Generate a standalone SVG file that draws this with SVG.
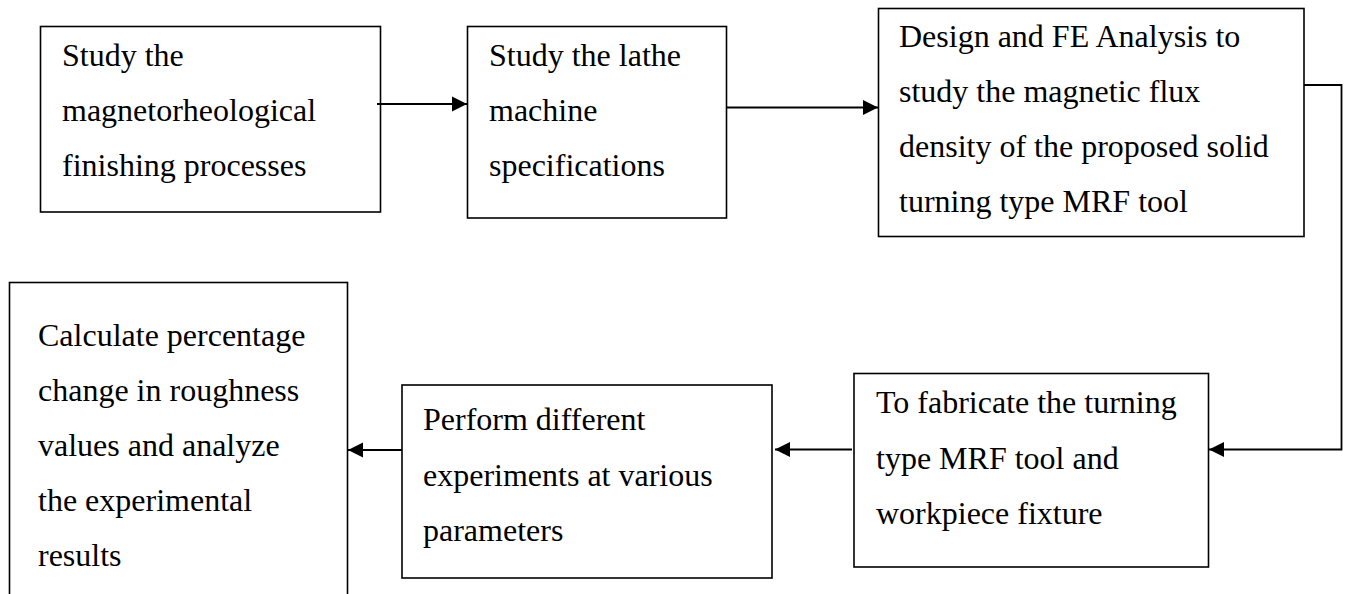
<svg xmlns="http://www.w3.org/2000/svg" width="1349" height="594" viewBox="0 0 1349 594">
<style>
.box{fill:#fff;stroke:#000;stroke-width:1.6}
.t{font-family:"Liberation Serif","Times New Roman",serif;font-size:32px;fill:#000}
.c{fill:none;stroke:#000;stroke-width:2}
</style>
<defs>
<marker id="ah" markerUnits="userSpaceOnUse" markerWidth="16" markerHeight="16" refX="15" refY="8" orient="auto">
<path d="M0,0.5 L15,8 L0,15.5 Z" fill="#000"/>
</marker>
</defs>
<rect width="1349" height="594" fill="#fff"/>
<g id="n1">
<rect class="box" x="40.5" y="26.5" width="340" height="185.5"/>
<text class="t" x="62" y="66">Study the</text>
<text class="t" x="62" y="121">magnetorheological</text>
<text class="t" x="62" y="176">finishing processes</text>
</g>
<g id="n2">
<rect class="box" x="467.5" y="26.5" width="259" height="191.5"/>
<text class="t" x="489" y="66">Study the lathe</text>
<text class="t" x="489" y="121">machine</text>
<text class="t" x="489" y="176">specifications</text>
</g>
<g id="n3">
<rect class="box" x="878.5" y="8.5" width="425.5" height="228"/>
<text class="t" x="899" y="47">Design and FE Analysis to</text>
<text class="t" x="899" y="102">study the magnetic flux</text>
<text class="t" x="899" y="157">density of the proposed solid</text>
<text class="t" x="899" y="212">turning type MRF tool</text>
</g>
<g id="n4">
<rect class="box" x="854" y="373.5" width="354.5" height="193.5"/>
<text class="t" x="876" y="413">To fabricate the turning</text>
<text class="t" x="876" y="469">type MRF tool and</text>
<text class="t" x="876" y="524">workpiece fixture</text>
</g>
<g id="n5">
<rect class="box" x="402" y="385" width="370" height="193"/>
<text class="t" x="423" y="430">Perform different</text>
<text class="t" x="423" y="486">experiments at various</text>
<text class="t" x="423" y="541">parameters</text>
</g>
<g id="n6">
<rect class="box" x="9.5" y="282.5" width="338" height="330"/>
<text class="t" x="38" y="346">Calculate percentage</text>
<text class="t" x="38" y="401">change in roughness</text>
<text class="t" x="38" y="456">values and analyze</text>
<text class="t" x="38" y="511">the experimental</text>
<text class="t" x="38" y="566">results</text>
</g>
<g id="connectors">
<path class="c" d="M377,104 L467,104" marker-end="url(#ah)"/>
<path class="c" d="M727,107.5 L878,107.5" marker-end="url(#ah)"/>
<path class="c" style="stroke-width:1.8" d="M1304,85 L1341.5,85 L1341.5,449.5 L1209,449.5" marker-end="url(#ah)"/>
<path class="c" d="M852,449.5 L775,449.5" marker-end="url(#ah)"/>
<path class="c" d="M402,450 L348,450" marker-end="url(#ah)"/>
</g>
</svg>
